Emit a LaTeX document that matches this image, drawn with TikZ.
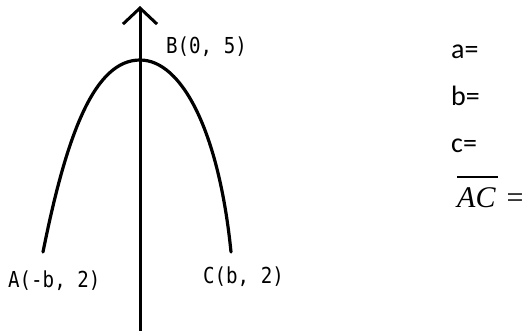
\documentclass[tikz,border=0pt]{standalone}
\usepackage{fontspec}
\usetikzlibrary{arrows.meta}
\newfontfamily\monofnt{DejaVu Sans Mono}
\newfontfamily\carfnt{Carlito}
\newfontfamily\tnrfnt{Liberation Serif}
\newcommand{\ovl}[1]{\setbox0\hbox{#1}\vbox{\hrule width \dimexpr\wd0+2bp\relax height 1.5bp \kern 9.5bp \box0}}
\tikzset{
  curveline/.style={line width=3.2bp, line cap=round},
  ptlabel/.style={font=\fontsize{22bp}{26bp}\monofnt, inner sep=0pt, anchor=base west, xscale=0.87, transform shape},
  eqlabel/.style={font=\fontsize{28bp}{33bp}\carfnt, inner sep=0pt, anchor=base west},
}
\begin{document}
\begin{tikzpicture}[x=1bp,y=-1bp]
\useasboundingbox (0,0) rectangle (530,330);
% axis
\coordinate (ybot) at (140,332);
\coordinate (ytop) at (140,6);
\draw[line width=3bp, -{Straight Barb[length=16bp,width=34bp,line width=3bp]}] (ybot) -- (ytop);
% parabola
\coordinate (A) at (43,252);
\coordinate (B) at (140,60);
\coordinate (C) at (231,252);
\draw[curveline] (A) .. controls (67,132) and (95,60) .. (B)
                 .. controls (182,60) and (219,132) .. (C);
% labels
\node[ptlabel] (lb) at (166,53) {B(0, 5)};
\node[ptlabel] (la) at (8,287) {A(-b, 2)};
\node[ptlabel] (lc) at (203,283) {C(b, 2)};
\node[eqlabel] (ea) at (451,58) {a=};
\node[eqlabel] (eb) at (451,105) {b=};
\node[eqlabel] (ec) at (451,152) {c=};
\node[inner sep=0pt, anchor=base west, font=\fontsize{30bp}{36bp}\tnrfnt] (eac) at (457,207) {\ovl{\itshape AC}\hspace{9bp}=};
\end{tikzpicture}
\end{document}
